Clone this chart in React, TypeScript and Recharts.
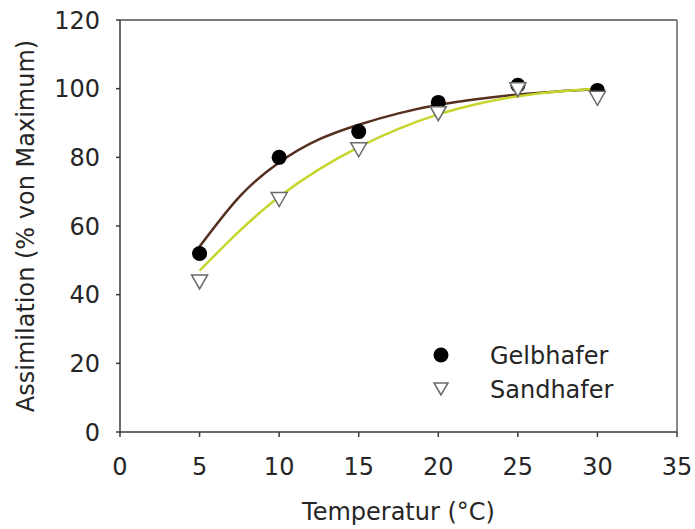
import {
  ComposedChart,
  Line,
  Scatter,
  XAxis,
  YAxis,
  ReferenceLine,
  Legend,
} from "recharts";

// measured points
const temps = [5, 10, 15, 20, 25, 30];
const gelbhafer = [52, 80, 87.5, 96, 101, 99.5];
const sandhafer = [44, 68, 82.5, 93, 100, 97.5];

// fitted curves
const fitTemps = [5, 7.5, 10, 12.5, 15, 17.5, 20, 22.5, 25, 27.5, 30];
const gelbhaferFit = [54, 68.5, 78.5, 85.2, 89.5, 92.8, 95.3, 97, 98.3, 99.2, 99.8];
const sandhaferFit = [47, 58.5, 68.5, 76.5, 83, 88.3, 92.5, 95.6, 97.8, 99.2, 100];

const xTicks = [0, 5, 10, 15, 20, 25, 30, 35];
const yTicks = [0, 20, 40, 60, 80, 100, 120];

const FONT = "'DejaVu Sans', sans-serif";
const TEXT_COLOR = "#262626";
const BROWN = "#55301f";
const YELLOW = "#c6d62c";

const toPoints = (xs: number[], ys: number[]) =>
  xs.map((x, i) => ({ x, y: ys[i] }));

function FilledDot(props: any) {
  const { cx, cy } = props;
  if (cx == null || cy == null) return null;
  return <circle cx={cx} cy={cy} r={7.5} fill="#000" />;
}

function DownTriangle(props: any) {
  const { cx, cy } = props;
  if (cx == null || cy == null) return null;
  return (
    <polygon
      points={`${cx - 8},${cy - 6} ${cx + 8},${cy - 6} ${cx},${cy + 8}`}
      fill="#fff"
      stroke="#6a6a6a"
      strokeWidth={1.5}
    />
  );
}

function LegendBox() {
  const textStyle = { fontFamily: FONT, fontSize: 24, fill: TEXT_COLOR };
  return (
    <svg width={220} height={70}>
      <circle cx={12} cy={12} r={7.5} fill="#000" />
      <text x={61} y={21} style={textStyle}>
        Gelbhafer
      </text>
      <polygon points="5,40 19,40 12,52" fill="#fff" stroke="#6a6a6a" strokeWidth={1.5} />
      <text x={61} y={55} style={textStyle}>
        Sandhafer
      </text>
    </svg>
  );
}

export default function App() {
  const tickStyle = { fontFamily: FONT, fontSize: 24, fill: TEXT_COLOR };
  return (
    <div style={{ position: "absolute", left: 0, top: 0, background: "#fff" }}>
      <ComposedChart
        width={695}
        height={529}
        margin={{ top: 20, right: 18, bottom: 0, left: 0 }}
      >
        <XAxis
          type="number"
          dataKey="x"
          domain={[0, 35]}
          ticks={xTicks}
          interval={0}
          height={97}
          tickSize={5}
          tickMargin={21}
          tick={tickStyle}
          axisLine={{ stroke: "#3a3a3a", strokeWidth: 1.5 }}
          tickLine={{ stroke: "#3a3a3a", strokeWidth: 1.5 }}
          label={{
            content: ({ viewBox }: any) => (
              <text
                x={viewBox.x + viewBox.width / 2}
                y={viewBox.y + 88}
                textAnchor="middle"
                style={tickStyle}
              >
                Temperatur (°C)
              </text>
            ),
          }}
        />
        <YAxis
          type="number"
          dataKey="y"
          domain={[0, 120]}
          ticks={yTicks}
          interval={0}
          width={120}
          tickSize={4}
          tickMargin={16}
          tick={tickStyle}
          axisLine={{ stroke: "#3a3a3a", strokeWidth: 1.5 }}
          tickLine={{ stroke: "#3a3a3a", strokeWidth: 1.5 }}
          label={{
            content: ({ viewBox }: any) => {
              const cx = viewBox.x + 26;
              const cy = viewBox.y + viewBox.height / 2;
              return (
                <text
                  x={cx}
                  y={cy}
                  transform={`rotate(-90 ${cx} ${cy})`}
                  textAnchor="middle"
                  dominantBaseline="central"
                  style={tickStyle}
                >
                  Assimilation (% von Maximum)
                </text>
              );
            },
          }}
        />
        <ReferenceLine y={120} stroke="#7a7a7a" strokeWidth={2} />
        <ReferenceLine x={35} stroke="#8a8a8a" strokeWidth={2} />
        <Line
          data={toPoints(fitTemps, gelbhaferFit)}
          dataKey="y"
          type="natural"
          stroke={BROWN}
          strokeWidth={2.5}
          dot={false}
          activeDot={false}
          legendType="none"
          isAnimationActive={false}
        />
        <Line
          data={toPoints(fitTemps, sandhaferFit)}
          dataKey="y"
          type="natural"
          stroke={YELLOW}
          strokeWidth={2.5}
          dot={false}
          activeDot={false}
          legendType="none"
          isAnimationActive={false}
        />
        <Scatter
          name="Gelbhafer"
          data={toPoints(temps, gelbhafer)}
          dataKey="y"
          shape={FilledDot}
          isAnimationActive={false}
        />
        <Scatter
          name="Sandhafer"
          data={toPoints(temps, sandhafer)}
          dataKey="y"
          shape={DownTriangle}
          isAnimationActive={false}
        />
        <Legend
          layout="horizontal"
          verticalAlign="middle"
          align="center"
          content={() => <LegendBox />}
          wrapperStyle={{ left: 429, top: 343, width: 220, height: 70 }}
        />
      </ComposedChart>
    </div>
  );
}
